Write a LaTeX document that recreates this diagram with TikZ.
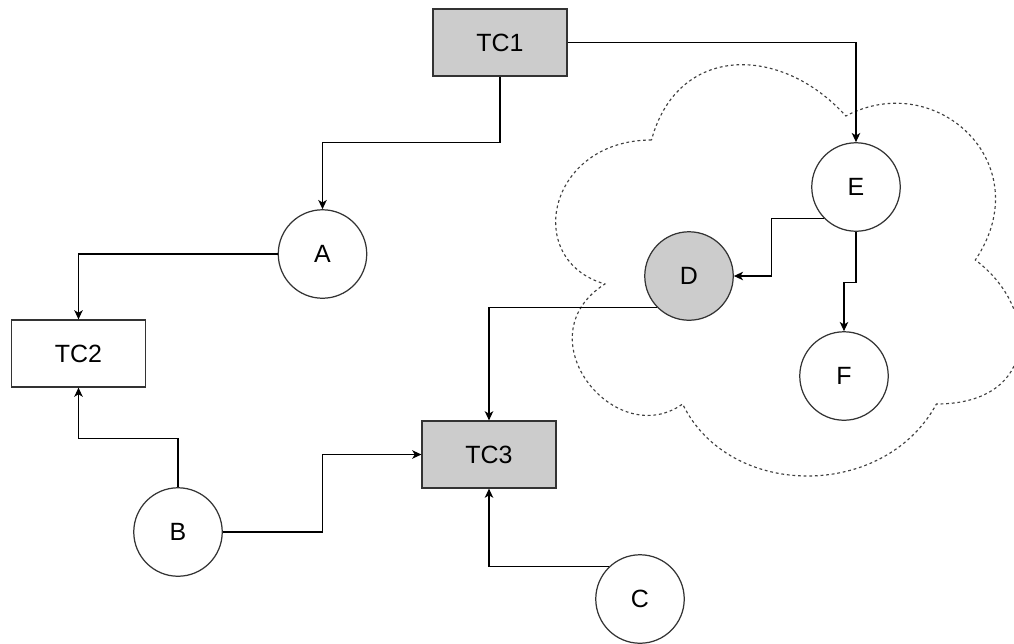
\documentclass[tikz,border=0pt]{standalone}
\usepackage{fontspec}
\setmainfont{Liberation Sans}
\usetikzlibrary{arrows.meta}
\definecolor{tcgray}{HTML}{CCCCCC}
\begin{document}
\begin{tikzpicture}[x=0.02cm,y=-0.02cm,line width=0.7pt,
	tcbox/.style={draw=black!80,minimum width=2.68cm,minimum height=1.34cm,inner sep=0pt,font=\fontsize{14.2}{17}\selectfont},
	var/.style={circle,draw=black!80,minimum size=1.77cm,inner sep=0pt,font=\fontsize{14.2}{17}\selectfont},
	>={Stealth[length=5.2pt,width=4.8pt,inset=1.4pt]}]
	\useasboundingbox (0,0) rectangle (1014,643);
	\draw[black!75,line width=0.65pt,dash pattern=on 1.6pt off 1.6pt] (651.5,140) .. controls (547.9,140) and (522,260) .. (604.9,284) .. controls (522,336.8) and (615.2,452) .. (682.6,404) .. controls (729.2,500) and (884.6,500) .. (936.4,404) .. controls (1040,404) and (1040,308) .. (975.3,260) .. controls (1040,164) and (936.4,68) .. (845.8,116) .. controls (781,44) and (677.4,44) .. (651.5,140) -- cycle;
	\node[tcbox,fill=tcgray] (TC1) at (500,42.5) {TC1};
	\node[tcbox] (TC2) at (78.5,353.5) {TC2};
	\node[tcbox,fill=tcgray] (TC3) at (489,454.5) {TC3};
	\node[var] (A) at (322.5,254) {A};
	\node[var] (B) at (178,532) {B};
	\node[var] (C) at (640,599) {C};
	\node[var,fill=tcgray] (D) at (689,276) {D};
	\node[var] (E) at (856,187) {E};
	\node[var] (F) at (844,376) {F};
	\draw[->] (TC1.south) -- ++(0,66) -| (A.north);
	\draw[->] (TC1.east) -| (E.north);
	\draw[->] (A.west) -| (TC2.north);
	\draw[->] (B.north) -- ++(0,-49) -| (TC2.south);
	\draw[->] (B.east) -- ++(100,0) |- (TC3.west);
	\draw[->] (C.134) -| (TC3.south);
	\draw[->] (D.225) -| (TC3.north);
	\draw[->] (E.225) -- ++(-53,0) |- (D.east);
	\draw[->] (E.south) -- ++(0,51) -| (F.north);
\end{tikzpicture}
\end{document}
